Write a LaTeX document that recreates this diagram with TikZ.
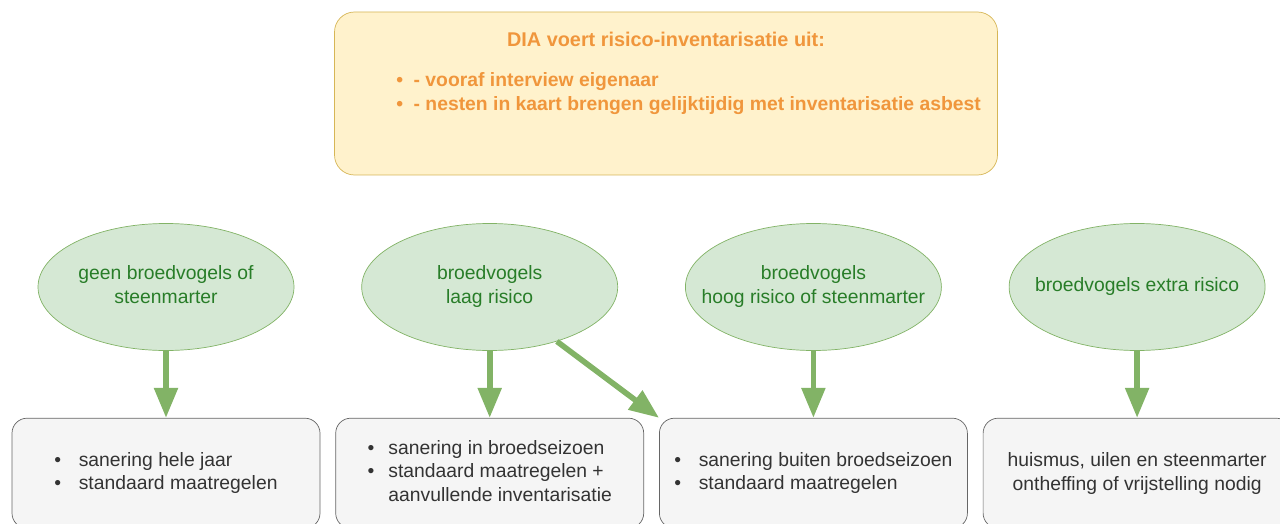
\documentclass[tikz,border=0pt]{standalone}
\usepackage{fontspec}
\setmainfont{Liberation Sans}
\usetikzlibrary{shapes.geometric,positioning,arrows.meta}
\definecolor{diafill}{HTML}{FFF2CC}
\definecolor{diadraw}{HTML}{D6B656}
\definecolor{diatext}{RGB}{240,150,60}
\definecolor{vogelfill}{HTML}{D5E8D4}
\definecolor{vogeldraw}{HTML}{82B366}
\definecolor{vogeltext}{RGB}{40,125,40}
\definecolor{maatfill}{HTML}{F5F5F5}
\definecolor{maatdraw}{HTML}{666666}
\definecolor{maattext}{HTML}{333333}
\newcommand{\punt}{\textbullet}
\newcommand{\midden}[1]{\makebox[0pt]{\begin{tabular}{@{}c@{}}#1\end{tabular}}}

\begin{document}
\begin{tikzpicture} [
			font=\fontsize{11}{13.5}\selectfont,
			vogel/.style={ellipse,draw=vogeldraw,fill=vogelfill,text=vogeltext,minimum width=5.12cm,minimum height=2.54cm},
			maat/.style={rectangle,draw=maatdraw,fill=maatfill,text=maattext,rounded corners=3mm,minimum width=6.16cm,minimum height=2.2cm,align=left},
			pijl/.style={-{Triangle[length=17pt,width=13pt]},line width=3.2pt,draw=vogeldraw},
			node distance=1.34cm,
		]
		\useasboundingbox (0,0) rectangle (25.6,-10.48);
		
		\node[rectangle,draw=diadraw,fill=diafill,rounded corners=4mm,minimum width=13.26cm,minimum height=3.26cm] (dia) at (13.32,-1.87) {};
		\node[text=diatext,font=\fontsize{11.3}{13.5}\selectfont\bfseries] (diatitel) [below=0.28cm of dia.north] {DIA voert risico-inventarisatie uit:};
		\node[text=diatext,font=\fontsize{11}{13.5}\selectfont\bfseries,anchor=north west] (dialijst) [below right=1.05cm and 1.12cm of dia.north west] {%
			\begin{tabular}{@{}l@{\hspace{6pt}}l@{}}
				\punt & - vooraf interview eigenaar\\
				\punt & - nesten in kaart brengen gelijktijdig met inventarisatie asbest
			\end{tabular}};
		
		\node[vogel] (geen) at (3.32,-5.74) {\midden{geen broedvogels of\\steenmarter}};
		\node[vogel] (laag) [right=of geen] {\midden{broedvogels\\laag risico}};
		\node[vogel] (hoog) [right=of laag] {\midden{broedvogels\\hoog risico of steenmarter}};
		\node[vogel] (extra) [right=of hoog] {\midden{broedvogels extra risico}};
		
		\node[maat] (jaar) [below=of geen] {%
			\begin{tabular}{@{}l@{\hspace{10pt}}l@{}}
				\punt & sanering hele jaar\\
				\punt & standaard maatregelen
			\end{tabular}};
		\node[maat] (in) [below=of laag] {%
			\begin{tabular}{@{}l@{\hspace{8pt}}l@{}}
				\punt & sanering in broedseizoen\\
				\punt & standaard maatregelen +\\
				 & aanvullende inventarisatie
			\end{tabular}};
		\node[maat] (buiten) [below=of hoog] {%
			\begin{tabular}{@{}l@{\hspace{10pt}}l@{}}
				\punt & sanering buiten broedseizoen\\
				\punt & standaard maatregelen
			\end{tabular}};
		\node[maat,align=center] (ontheffing) [below=of extra] {huismus, uilen en steenmarter\\ontheffing of vrijstelling nodig};
		
		\draw[pijl] (geen.south) -- (jaar.north);
		\draw[pijl] (laag.south) -- (in.north);
		\draw[pijl] (laag.-39) -- (buiten.north west);
		\draw[pijl] (hoog.south) -- (buiten.north);
		\draw[pijl] (extra.south) -- (ontheffing.north);
		
	\end{tikzpicture}
\end{document}
